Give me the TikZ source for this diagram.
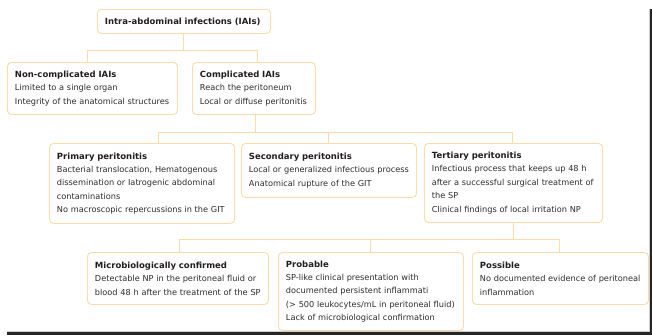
\documentclass[tikz,border=0pt]{standalone}
\usepackage{fontspec}
\setmainfont{DejaVu Sans}
\definecolor{boxline}{RGB}{252,219,168}
\definecolor{titlec}{RGB}{35,31,32}
\definecolor{bodyc}{RGB}{45,45,45}
\tikzset{
  box/.style={draw=boxline, line width=0.9pt, rounded corners=4pt, anchor=north west,
    inner xsep=7.5pt, inner ysep=0pt, align=left, font=\fontsize{8.2}{13.4}\selectfont,
    text=bodyc, fill=white},
  conn/.style={draw=boxline, line width=1pt},
}
\newcommand{\bt}[1]{{\fontsize{8.5}{13.4}\selectfont\bfseries\color{titlec}#1}}
\begin{document}
\begin{tikzpicture}[x=1pt,y=-1pt]
\useasboundingbox (0,0) rectangle (652,335);
\fill[white] (0,0) rectangle (652,335);
% frame shadow lines
\fill[black!85] (649.5,9) rectangle (652,335);
\fill[black!85] (7,331.5) rectangle (652,335);
\fill[black!20] (7,330.5) rectangle (649.5,331.5);
\fill[black!20] (648.5,9) rectangle (649.5,331.5);

% junction coordinates
\coordinate (j1) at (183,50);
\coordinate (j1l) at (87,50);
\coordinate (j1r) at (257,50);
\coordinate (j2) at (255,132);
\coordinate (j2l) at (158,132);
\coordinate (j2m) at (328,132);
\coordinate (j2r) at (512,132);
\coordinate (j3) at (513,239);
\coordinate (j3l) at (179,239);
\coordinate (j3m) at (370,239);
\coordinate (j3r) at (559,239);

% boxes
\node[box, minimum width=173pt, minimum height=24pt, text width=158pt] (top) at (97,9) {\bt{Intra-abdominal infections (IAIs)}};
\node[box, minimum width=170pt, minimum height=52pt, text width=155pt] (noncomp) at (7,62) {\bt{Non-complicated IAIs}\\Limited to a single organ\\Integrity of the anatomical structures};
\node[box, minimum width=123pt, minimum height=52pt, text width=108pt] (comp) at (192,62) {\bt{Complicated IAIs}\\Reach the peritoneum\\Local or diffuse peritonitis};
\node[box, minimum width=185pt, minimum height=80pt, text width=170pt] (prim) at (49,143) {\bt{Primary peritonitis}\\Bacterial translocation, Hematogenous\\dissemination or Iatrogenic abdominal\\contaminations\\No macroscopic repercussions in the GIT};
\node[box, minimum width=175pt, minimum height=54pt, text width=160pt] (sec) at (241,143) {\bt{Secondary peritonitis}\\Local or generalized infectious process\\Anatomical rupture of the GIT};
\node[box, minimum width=178pt, minimum height=79pt, text width=163pt] (ter) at (424,143) {\bt{Tertiary peritonitis}\\Infectious process that keeps up 48 h\\after a successful surgical treatment of\\the SP\\Clinical findings of local irritation NP};
\node[box, minimum width=181pt, minimum height=52pt, text width=166pt] (micro) at (87,252) {\bt{Microbiologically confirmed}\\Detectable NP in the peritoneal fluid or\\blood 48 h after the treatment of the SP};
\node[box, minimum width=185pt, minimum height=78pt, text width=170pt] (prob) at (278,252) {\bt{Probable}\\SP-like clinical presentation with\\documented persistent inflammati\\(> 500 leukocytes/mL in peritoneal fluid)\\Lack of microbiological confirmation};
\node[box, minimum width=176pt, minimum height=52pt, text width=161pt] (poss) at (472,252) {\bt{Possible}\\No documented evidence of peritoneal\\inflammation};

% connectors
\draw[conn] (top.south -| j1) -- (j1);
\draw[conn] (j1l) -- (j1r);
\draw[conn] (j1l) -- (j1l |- noncomp.north);
\draw[conn] (j1r) -- (j1r |- comp.north);
\draw[conn] (comp.south -| j2) -- (j2);
\draw[conn] (j2l) -- (j2r);
\draw[conn] (j2l) -- (j2l |- prim.north);
\draw[conn] (j2m) -- (j2m |- sec.north);
\draw[conn] (j2r) -- (j2r |- ter.north);
\draw[conn] (ter.south -| j3) -- (j3);
\draw[conn] (j3l) -- (j3r);
\draw[conn] (j3l) -- (j3l |- micro.north);
\draw[conn] (j3m) -- (j3m |- prob.north);
\draw[conn] (j3r) -- (j3r |- poss.north);
\end{tikzpicture}
\end{document}
